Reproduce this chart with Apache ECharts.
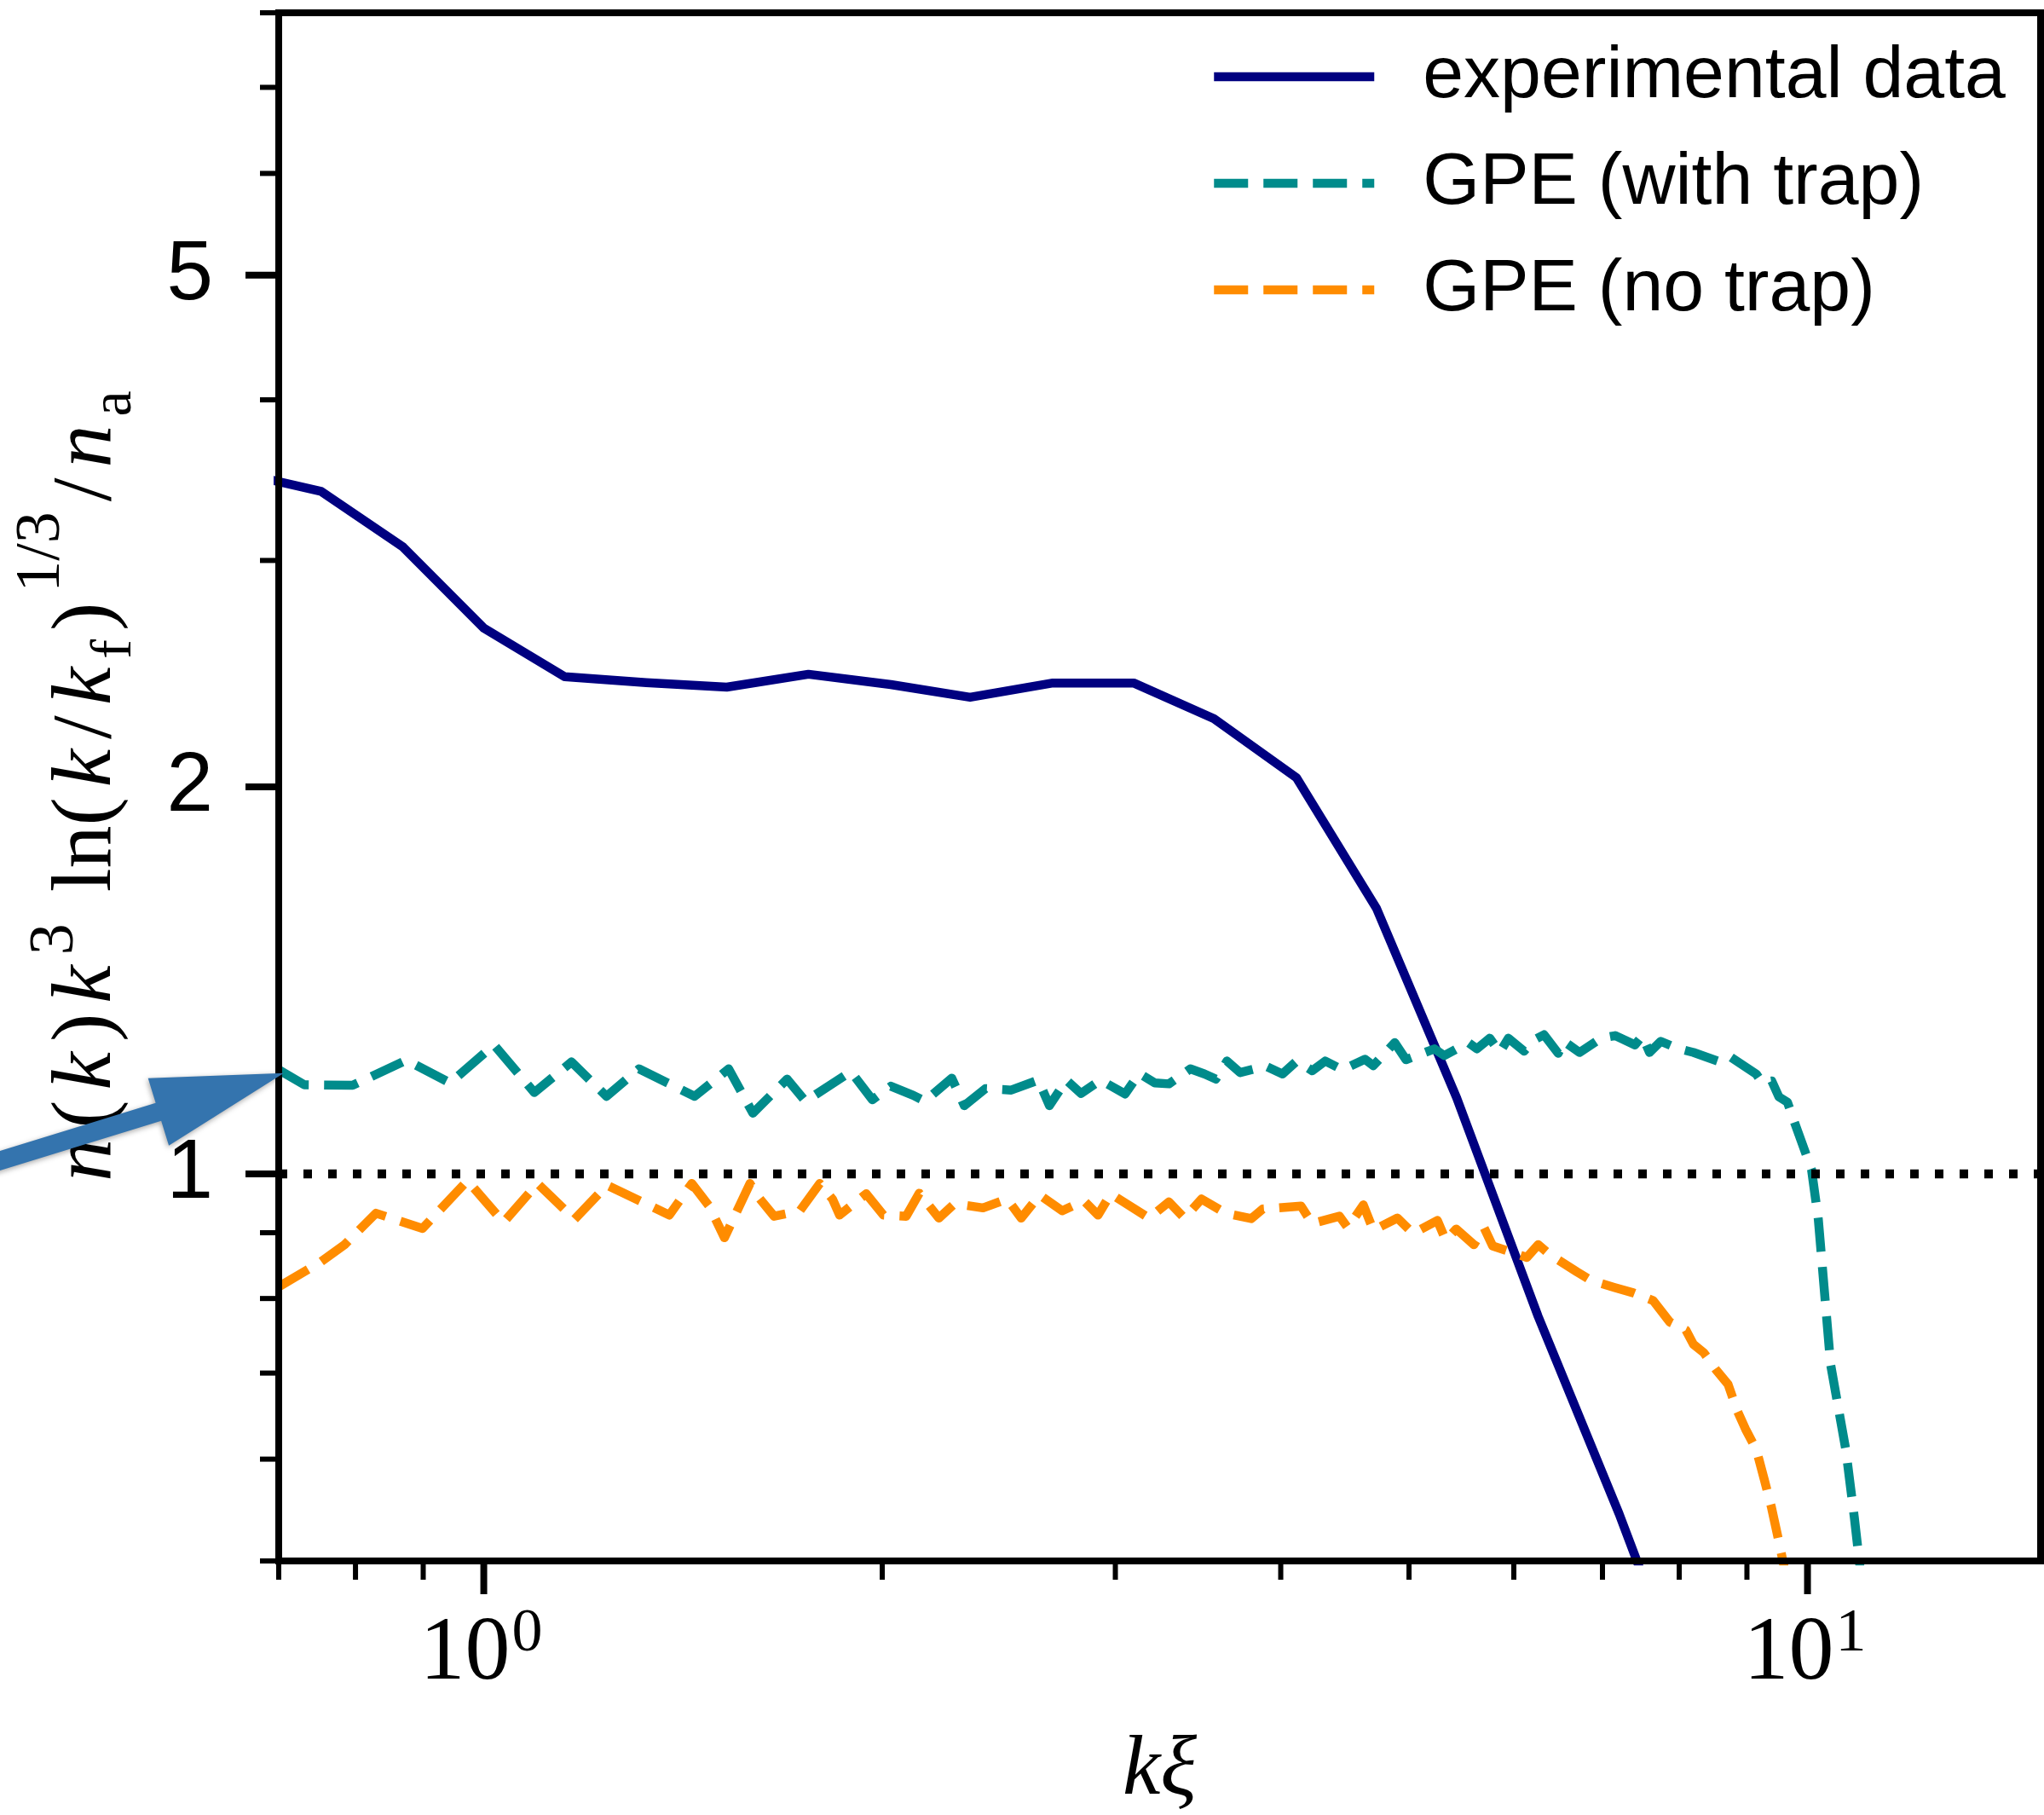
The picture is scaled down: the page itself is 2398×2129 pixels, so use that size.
<!DOCTYPE html>
<html>
<head>
<meta charset="utf-8">
<script src="https://cdn.jsdelivr.net/npm/echarts@6/dist/echarts.min.js"></script>
<style>
  html, body { margin: 0; padding: 0; background: #fff; }
  #chart { width: 2398px; height: 2129px; }
</style>
</head>
<body>
<div id="chart"></div>
<script>
// ---- data -------------------------------------------------------------
// measured spectrum
const expK = [0.654, 0.7535, 0.869, 1.0, 1.151, 1.327, 1.526, 1.759, 2.03, 2.33,
  2.691, 3.097, 3.561, 4.111, 4.725, 5.432, 6.26, 7.206, 8.3];
const expN = [3.51, 3.395, 3.073, 2.658, 2.436, 2.41, 2.391, 2.447, 2.402, 2.348,
  2.409, 2.409, 2.26, 2.033, 1.609, 1.146, 0.7745, 0.544, 0.37];

// GPE simulation with trap
const trapK = [0.700, 0.732, 0.796, 0.874, 0.943, 1.018, 1.092, 1.165, 1.238, 1.310,
  1.443, 1.531, 1.597, 1.695, 1.750, 1.894, 1.966, 2.030, 2.111, 2.154,
  2.257, 2.307, 2.393, 2.503, 2.624, 2.675, 2.755, 2.826, 2.924, 3.051,
  3.127, 3.213, 3.293, 3.418, 3.503, 3.573, 3.643, 3.727, 3.896, 4.012,
  4.113, 4.225, 4.322, 4.452, 4.631, 4.699, 4.877, 4.974, 5.226, 5.317,
  5.544, 5.627, 5.754, 5.855, 5.943, 6.108, 6.214, 6.323, 6.482, 6.546,
  6.726, 6.982, 7.157, 7.407, 7.503, 7.597, 7.747, 7.980, 8.200, 8.554,
  8.726, 9.147, 9.237, 9.398, 9.515, 9.658, 9.779, 10.07, 10.19, 10.41,
  10.69, 10.85, 10.98];
const trapN = [1.205, 1.173, 1.172, 1.226, 1.177, 1.260, 1.157, 1.222, 1.149, 1.207,
  1.149, 1.207, 1.115, 1.185, 1.139, 1.201, 1.142, 1.170, 1.151, 1.139,
  1.187, 1.130, 1.165, 1.162, 1.183, 1.130, 1.183, 1.155, 1.183, 1.154,
  1.197, 1.177, 1.175, 1.207, 1.196, 1.185, 1.224, 1.199, 1.213, 1.196,
  1.224, 1.203, 1.224, 1.205, 1.228, 1.214, 1.265, 1.227, 1.251, 1.236,
  1.265, 1.251, 1.275, 1.243, 1.275, 1.246, 1.271, 1.283, 1.241, 1.268,
  1.243, 1.275, 1.281, 1.260, 1.281, 1.243, 1.268, 1.252, 1.243, 1.224,
  1.235, 1.196, 1.178, 1.181, 1.148, 1.137, 1.096, 1.008, 0.922, 0.711,
  0.610, 0.540, 0.485];

// GPE simulation without trap
const freeK = [0.700, 0.753, 0.785, 0.829, 0.899, 0.972, 1.035, 1.098, 1.171, 1.239,
  1.381, 1.436, 1.480, 1.520, 1.589, 1.605, 1.657, 1.733, 1.794, 1.834,
  1.857, 1.945, 2.004, 2.085, 2.133, 2.207, 2.268, 2.383, 2.485, 2.547,
  2.630, 2.735, 2.840, 2.911, 2.976, 3.181, 3.293, 3.383, 3.485, 3.635,
  3.800, 3.876, 4.144, 4.225, 4.430, 4.495, 4.618, 4.699, 4.900, 5.036,
  5.253, 5.330, 5.428, 5.597, 5.698, 5.783, 6.137, 6.260, 6.392, 6.698,
  6.870, 7.148, 7.390, 7.646, 7.870, 8.094, 8.200, 8.350, 8.530, 8.710,
  8.846, 8.986, 9.150, 9.270, 9.390, 9.513, 9.620];
const freeN = [0.817, 0.854, 0.881, 0.932, 0.907, 0.988, 0.917, 0.983, 0.922, 0.980,
  0.929, 0.983, 0.944, 0.892, 0.983, 0.965, 0.927, 0.936, 0.983, 0.956,
  0.929, 0.965, 0.929, 0.927, 0.966, 0.924, 0.948, 0.941, 0.956, 0.924,
  0.963, 0.936, 0.953, 0.929, 0.965, 0.924, 0.951, 0.924, 0.956, 0.932,
  0.923, 0.939, 0.944, 0.915, 0.927, 0.908, 0.946, 0.904, 0.924, 0.899,
  0.920, 0.888, 0.906, 0.881, 0.908, 0.879, 0.861, 0.881, 0.865, 0.839,
  0.826, 0.816, 0.808, 0.797, 0.767, 0.756, 0.737, 0.726, 0.704, 0.686,
  0.655, 0.632, 0.610, 0.580, 0.551, 0.518, 0.490];

const refLevel = 1;                 // horizontal dotted reference
const xRange = [0.7, 15];
const yRange = [0.5, 8];
const xMajor = [1, 10];
const xMinor = [0.7, 0.8, 0.9, 2, 3, 4, 5, 6, 7, 8, 9];
const yMajor = [1, 2, 5];
const yMinor = [0.5, 0.6, 0.7, 0.8, 0.9, 3, 4, 6, 7, 8];
const xTickBase = ['10', '10'];
const xTickExp = ['0', '1'];
const yTickText = ['1', '2', '5'];
const seriesNames = ['experimental data', 'GPE (with trap)', 'GPE (no trap)'];

// ---- styling ----------------------------------------------------------
const SANS = 'Liberation Sans';
const SERIF = 'Liberation Serif';
const LW = 10.5;
const DASH = [40, 18];
const DOT = [10, 19];
const TICK = { majorLen: 39, minorLen: 22, majorW: 8, minorW: 6 };
const C = { exp: '#000080', trap: '#008b8b', free: '#ff8c00', arrow: '#3474ae' };

const pairs = (a, b) => a.map((v, i) => [v, b[i]]);

// tick marks and tick labels, positioned through the axes
const tickData = [];
xMajor.forEach((v, i) => tickData.push([v, yRange[0], 0, i]));
xMinor.forEach((v, i) => tickData.push([v, yRange[0], 1, i]));
yMajor.forEach((v, i) => tickData.push([xRange[0], v, 2, i]));
yMinor.forEach((v, i) => tickData.push([xRange[0], v, 3, i]));

function renderTick(params, api) {
  const kind = api.value(2);
  const idx = api.value(3);
  const p = api.coord([api.value(0), api.value(1)]);
  const kids = [];
  if (kind === 0 || kind === 1) {
    const len = kind === 0 ? TICK.majorLen : TICK.minorLen;
    kids.push({ type: 'line', shape: { x1: p[0], y1: p[1], x2: p[0], y2: p[1] + len },
      style: { stroke: '#000', lineWidth: kind === 0 ? TICK.majorW : TICK.minorW } });
    if (kind === 0) {
      kids.push({ type: 'text', style: { text: xTickBase[idx], x: p[0] + 31, y: p[1] + 110,
        align: 'right', verticalAlign: 'middle', font: '106px "' + SERIF + '"', fill: '#000' } });
      kids.push({ type: 'text', style: { text: xTickExp[idx], x: p[0] + 33, y: p[1] + 86,
        align: 'left', verticalAlign: 'middle', font: '72px "' + SERIF + '"', fill: '#000' } });
    }
  } else {
    const len = kind === 2 ? TICK.majorLen : TICK.minorLen;
    kids.push({ type: 'line', shape: { x1: p[0], y1: p[1], x2: p[0] - len, y2: p[1] },
      style: { stroke: '#000', lineWidth: kind === 2 ? TICK.majorW : TICK.minorW } });
    if (kind === 2) {
      kids.push({ type: 'text', style: { text: yTickText[idx], x: p[0] - 77, y: p[1] + 1,
        align: 'right', verticalAlign: 'middle', font: '98px "' + SANS + '"', fill: '#000' } });
    }
  }
  return { type: 'group', children: kids };
}

function renderFrame(params, api) {
  const a = api.coord([api.value(0), api.value(1)]);
  const b = api.coord([api.value(2), api.value(3)]);
  return { type: 'rect', shape: { x: a[0], y: b[1], width: b[0] - a[0], height: a[1] - b[1] },
    style: { fill: 'none', stroke: '#000', lineWidth: 8 } };
}

// annotation arrow pointing at the first point of the trapped-GPE curve
function renderArrow(params, api) {
  const t = api.coord([api.value(0), api.value(1)]);
  const tip = [t[0] + 6, t[1] + 4];
  const u = [0.9553, -0.2947], n = [0.2947, 0.9553];
  const headLen = 154, headHalf = 41.4, shaftHalf = 11, tail = 560;
  const bc = [tip[0] - headLen * u[0], tip[1] - headLen * u[1]];
  const tl = [tip[0] - tail * u[0], tip[1] - tail * u[1]];
  const pt = (o, s) => [o[0] + s * n[0], o[1] + s * n[1]];
  return { type: 'polygon',
    shape: { points: [tip, pt(bc, headHalf), pt(bc, shaftHalf), pt(tl, shaftHalf),
      pt(tl, -shaftHalf), pt(bc, -shaftHalf), pt(bc, -headHalf)] },
    style: { fill: C.arrow, shadowBlur: 6, shadowColor: 'rgba(0,0,0,0.35)', shadowOffsetX: -1, shadowOffsetY: 2 } };
}

const yName = '{i|n}{r|(}{i|k}{r|)}{i|k}{supk|3}{r| ln(}{i|k}{r|/}{i|k}{sub|f}{r|)}{sup|1/3}{r|/}{i|n}{sub|a}';

const lineSeries = (name, k, v, color, dash) => ({
  name, type: 'line', data: pairs(k, v), showSymbol: false, symbol: 'none', clip: true, z: 3,
  itemStyle: { color },
  lineStyle: { color, width: LW, type: dash || 'solid', join: 'round', cap: 'butt' }
});

const chart = echarts.init(document.getElementById('chart'), null, { renderer: 'canvas' });
chart.setOption({
  animation: false,
  backgroundColor: '#fff',
  grid: { left: 327, top: 15, right: 4, bottom: 298, outerBoundsMode: 'none', containLabel: false },
  xAxis: {
    type: 'log', logBase: 10, min: xRange[0], max: xRange[1],
    axisLine: { show: false }, axisTick: { show: false }, axisLabel: { show: false },
    splitLine: { show: false }, minorTick: { show: false },
    name: 'kξ', nameLocation: 'middle', nameGap: 197, nameMoveOverlap: false,
    nameTextStyle: { fontFamily: SERIF, fontStyle: 'italic', fontSize: 100, color: '#000' }
  },
  yAxis: {
    type: 'log', logBase: 10, min: yRange[0], max: yRange[1],
    axisLine: { show: false }, axisTick: { show: false }, axisLabel: { show: false },
    splitLine: { show: false }, minorTick: { show: false },
    name: yName, nameLocation: 'middle', nameRotate: 90, nameGap: 134, nameMoveOverlap: false,
    nameTextStyle: {
      color: '#000',
      rich: {
        i: { fontFamily: SERIF, fontStyle: 'italic', fontSize: 100, lineHeight: 180, verticalAlign: 'middle', padding: [0, 6] },
        r: { fontFamily: SERIF, fontSize: 100, lineHeight: 180, verticalAlign: 'middle', padding: [0, 6] },
        sup: { fontFamily: SERIF, fontSize: 74, verticalAlign: 'top', padding: [0, 6] },
        supk: { fontFamily: SERIF, fontSize: 74, verticalAlign: 'top', padding: [16, 6, 0, 6] },
        sub: { fontFamily: SERIF, fontSize: 68, verticalAlign: 'bottom', padding: [0, 4, 24, 4] }
      }
    }
  },
  legend: {
    orient: 'vertical', left: 1419, top: 40, padding: 0,
    itemWidth: 188, itemHeight: 100, itemGap: 25,
    data: seriesNames,
    lineStyle: { width: LW },
    itemStyle: { opacity: 0, borderWidth: 0 },
    textStyle: { fontFamily: SANS, fontSize: 86, lineHeight: 100, color: '#000', padding: [0, 0, 0, 52] }
  },
  series: [
    lineSeries(seriesNames[0], expK, expN, C.exp),
    lineSeries(seriesNames[1], trapK, trapN, C.trap, DASH),
    lineSeries(seriesNames[2], freeK, freeN, C.free, DASH),
    { name: 'reference', type: 'line', data: [[xRange[0], refLevel], [xRange[1], refLevel]],
      showSymbol: false, symbol: 'none', clip: true, z: 3, silent: true,
      lineStyle: { color: '#000', width: LW, type: DOT, cap: 'butt' } },
    { type: 'custom', renderItem: renderFrame, silent: true, z: 10,
      data: [[xRange[0], yRange[0], xRange[1], yRange[1]]], encode: { x: [0, 2], y: [1, 3] } },
    { type: 'custom', renderItem: renderTick, silent: true, z: 10,
      data: tickData, encode: { x: 0, y: 1 } },
    { type: 'custom', renderItem: renderArrow, silent: true, z: 20,
      data: [[trapK[0], trapN[0]]], encode: { x: 0, y: 1 } }
  ]
});
</script>
</body>
</html>
